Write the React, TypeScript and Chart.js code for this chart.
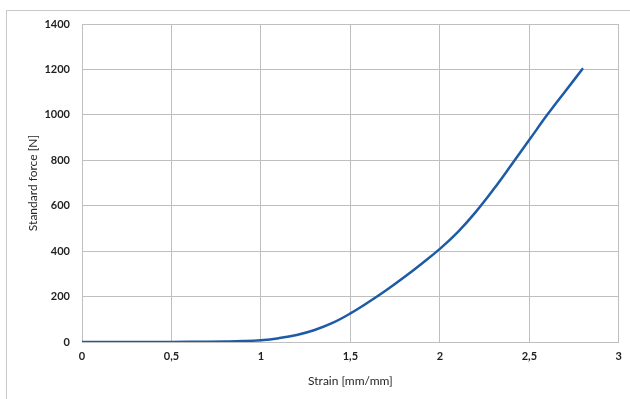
import React, { useEffect, useRef } from "react";
import { Chart, registerables } from "chart.js";

Chart.register(...registerables);

const strain = [0, 0.4, 0.6, 0.8, 0.9, 1.0, 1.1, 1.2, 1.3, 1.4, 1.5, 1.6, 1.7, 1.8, 1.9, 2.0, 2.1, 2.2, 2.3, 2.4, 2.5, 2.6, 2.7, 2.8];
const force = [0, 0.3, 1, 2.5, 4, 8, 17, 31, 53, 84, 126, 175, 228, 285, 346, 410, 484, 572, 672, 780, 890, 1000, 1103, 1205];
const xTitle = "Strain [mm/mm]";
const yTitle = "Standard force [N]";

const framePlugin = {
  id: "frame",
  beforeDraw(chart: any) {
    const ctx = chart.ctx;
    ctx.save();
    ctx.fillStyle = "#ffffff";
    ctx.fillRect(0, 0, chart.width, chart.height);
    ctx.strokeStyle = "#c8c8c8";
    ctx.lineWidth = 1;
    ctx.beginPath();
    ctx.moveTo(6.5, chart.height);
    ctx.lineTo(6.5, 10.5);
    ctx.lineTo(chart.width, 10.5);
    ctx.stroke();
    ctx.restore();
  },
};

export default function App() {
  const ref = useRef<HTMLCanvasElement | null>(null);
  useEffect(() => {
    if (!ref.current) return;
    const gridColor = "#bfbfbf";
    const tickFont = { family: "Lato", size: 11, weight: "bold" as const };
    const titleFont = { family: "Lato", size: 12 };
    const chart = new Chart(ref.current, {
      type: "line",
      data: {
        datasets: [
          {
            data: strain.map((x, i) => ({ x, y: force[i] })),
            borderColor: "#1d5ba6",
            borderWidth: 2.5,
            pointRadius: 0,
            tension: 0.4,
            fill: false,
          },
        ],
      },
      options: {
        animation: false,
        responsive: false,
        layout: { padding: { left: 0, top: 24, right: 11, bottom: 0 } },
        plugins: { legend: { display: false }, tooltip: { enabled: false } },
        scales: {
          x: {
            type: "linear",
            min: 0,
            max: 3,
            afterFit: (s: any) => { s.height = 57; },
            ticks: {
              stepSize: 0.5,
              color: "#1f1f1f",
              font: tickFont,
              padding: 8,
              callback: (v: any) => String(v).replace(".", ","),
            },
            grid: { color: gridColor, drawTicks: false, lineWidth: 1 },
            border: { color: gridColor },
            title: { display: true, text: xTitle, color: "#262626", font: titleFont, padding: { top: 0, bottom: 11 } },
          },
          y: {
            min: 0,
            max: 1400,
            afterFit: (s: any) => { s.width = 82; },
            ticks: { stepSize: 200, color: "#1f1f1f", font: tickFont, padding: 12, callback: (v: any) => String(v) },
            grid: { color: gridColor, drawTicks: false, lineWidth: 1 },
            border: { color: gridColor },
            title: { display: true, text: yTitle, color: "#262626", font: titleFont, padding: { top: 26, bottom: 0 } },
          },
        },
      },
      plugins: [framePlugin],
    });
    return () => chart.destroy();
  }, []);
  return (
    <div style={{ position: "fixed", left: 0, top: 0, width: 630, height: 399, background: "#fff" }}>
      <canvas ref={ref} width={630} height={399} style={{ width: 630, height: 399, display: "block" }} />
    </div>
  );
}
